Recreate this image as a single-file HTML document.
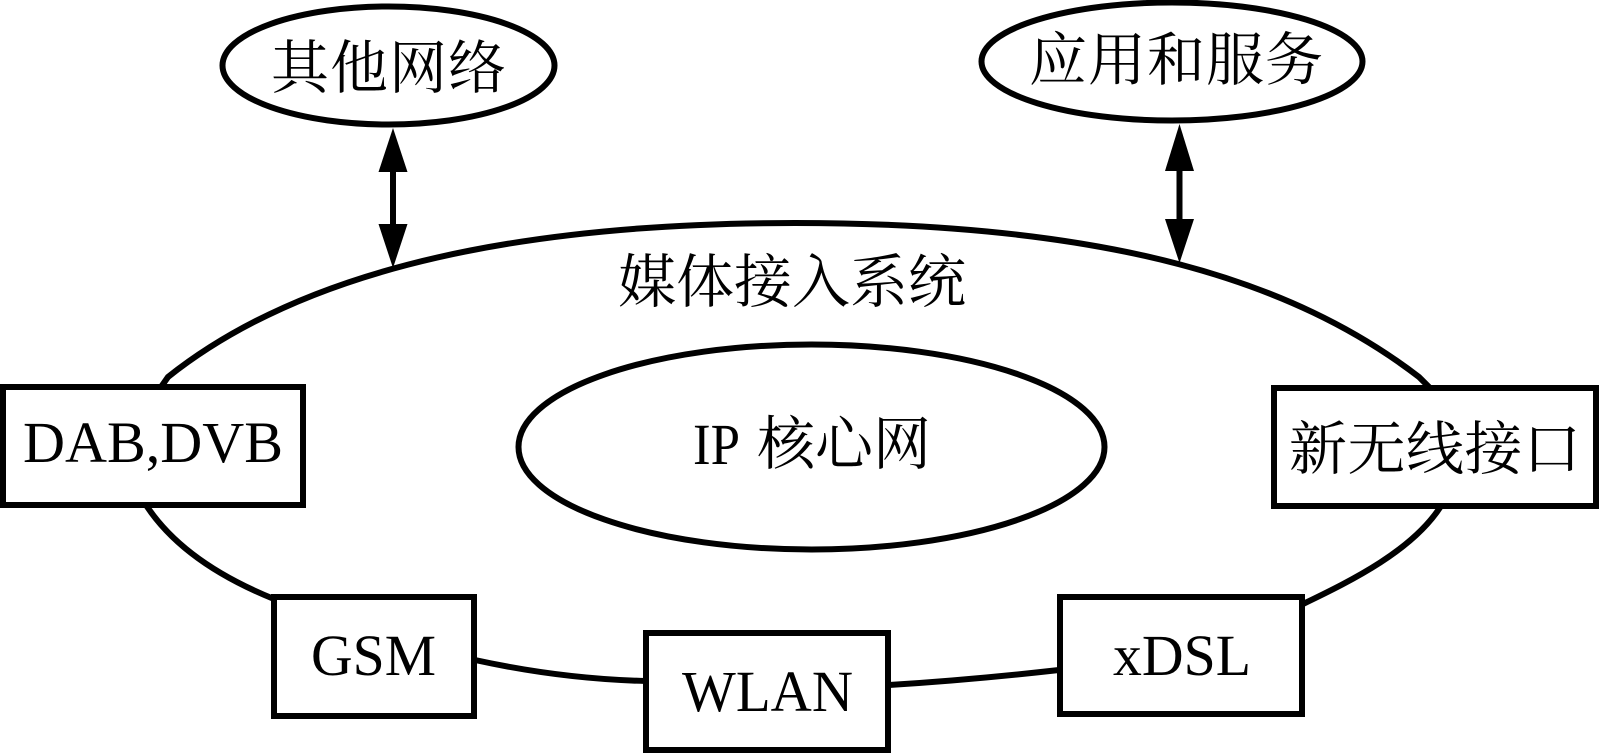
<!DOCTYPE html>
<html>
<head>
<meta charset="utf-8">
<style>
html,body{margin:0;padding:0;background:#fff;width:1599px;height:754px;overflow:hidden}
svg{display:block}
.t{font-family:"Liberation Serif","Noto Serif CJK SC",serif;font-size:58px;fill:#000}
.s{fill:#fff;stroke:#000;stroke-width:6}
.l{fill:none;stroke:#000;stroke-width:6}
</style>
</head>
<body>
<svg width="1599" height="754" viewBox="0 0 1599 754" xmlns="http://www.w3.org/2000/svg">
<rect width="1599" height="754" fill="#fff"/>
<path class="l" d="M161 387L168 377C286 283 480 223 795 223C1110 223 1294 281 1419 377L1431 389"/>
<path class="l" d="M146 505C174 548 222 578 274 599"/>
<path class="l" d="M475 660Q562 679 646 681"/>
<path class="l" d="M889 685Q970 680 1059 670"/>
<path class="l" d="M1441 506C1413 550 1353 580 1303 604"/>
<ellipse class="s" cx="388.500" cy="65.500" rx="166" ry="59"/>
<ellipse class="s" cx="1172" cy="61.500" rx="190.500" ry="59"/>
<ellipse class="s" cx="811.500" cy="447" rx="293" ry="102.500"/>
<line x1="393" y1="165" x2="393" y2="230" stroke="#000" stroke-width="6"/>
<polygon points="393,128 407.500,172 378.500,172" fill="#000"/>
<polygon points="393,268 407.500,224 378.500,224" fill="#000"/>
<line x1="1179.500" y1="165" x2="1179.500" y2="225" stroke="#000" stroke-width="6"/>
<polygon points="1179.500,124 1194,171 1165,171" fill="#000"/>
<polygon points="1179.500,263 1194,219 1165,219" fill="#000"/>
<rect class="s" x="3" y="387" width="300" height="118"/>
<rect class="s" x="274" y="597" width="200" height="119"/>
<rect class="s" x="646" y="633" width="242" height="117"/>
<rect class="s" x="1060" y="597" width="242" height="117"/>
<rect class="s" x="1274" y="388" width="322" height="118"/>
<text class="t" x="271" y="88" letter-spacing="1">其他网络</text>
<text class="t" x="1029" y="80" letter-spacing="1">应用和服务</text>
<text class="t" x="618" y="302">媒体接入系统</text>
<text class="t" x="23" y="462" textLength="260" lengthAdjust="spacingAndGlyphs">DAB,DVB</text>
<text class="t" x="311" y="675" textLength="125" lengthAdjust="spacingAndGlyphs">GSM</text>
<text class="t" x="682" y="711" textLength="171" lengthAdjust="spacingAndGlyphs">WLAN</text>
<text class="t" x="1113" y="675" textLength="138" lengthAdjust="spacingAndGlyphs">xDSL</text>
<text class="t" x="693" y="464" textLength="47" lengthAdjust="spacingAndGlyphs">IP</text>
<text class="t" x="757" y="464">核心网</text>
<text class="t" x="1289" y="469" letter-spacing="0.500">新无线接口</text>
</svg>
</body>
</html>
